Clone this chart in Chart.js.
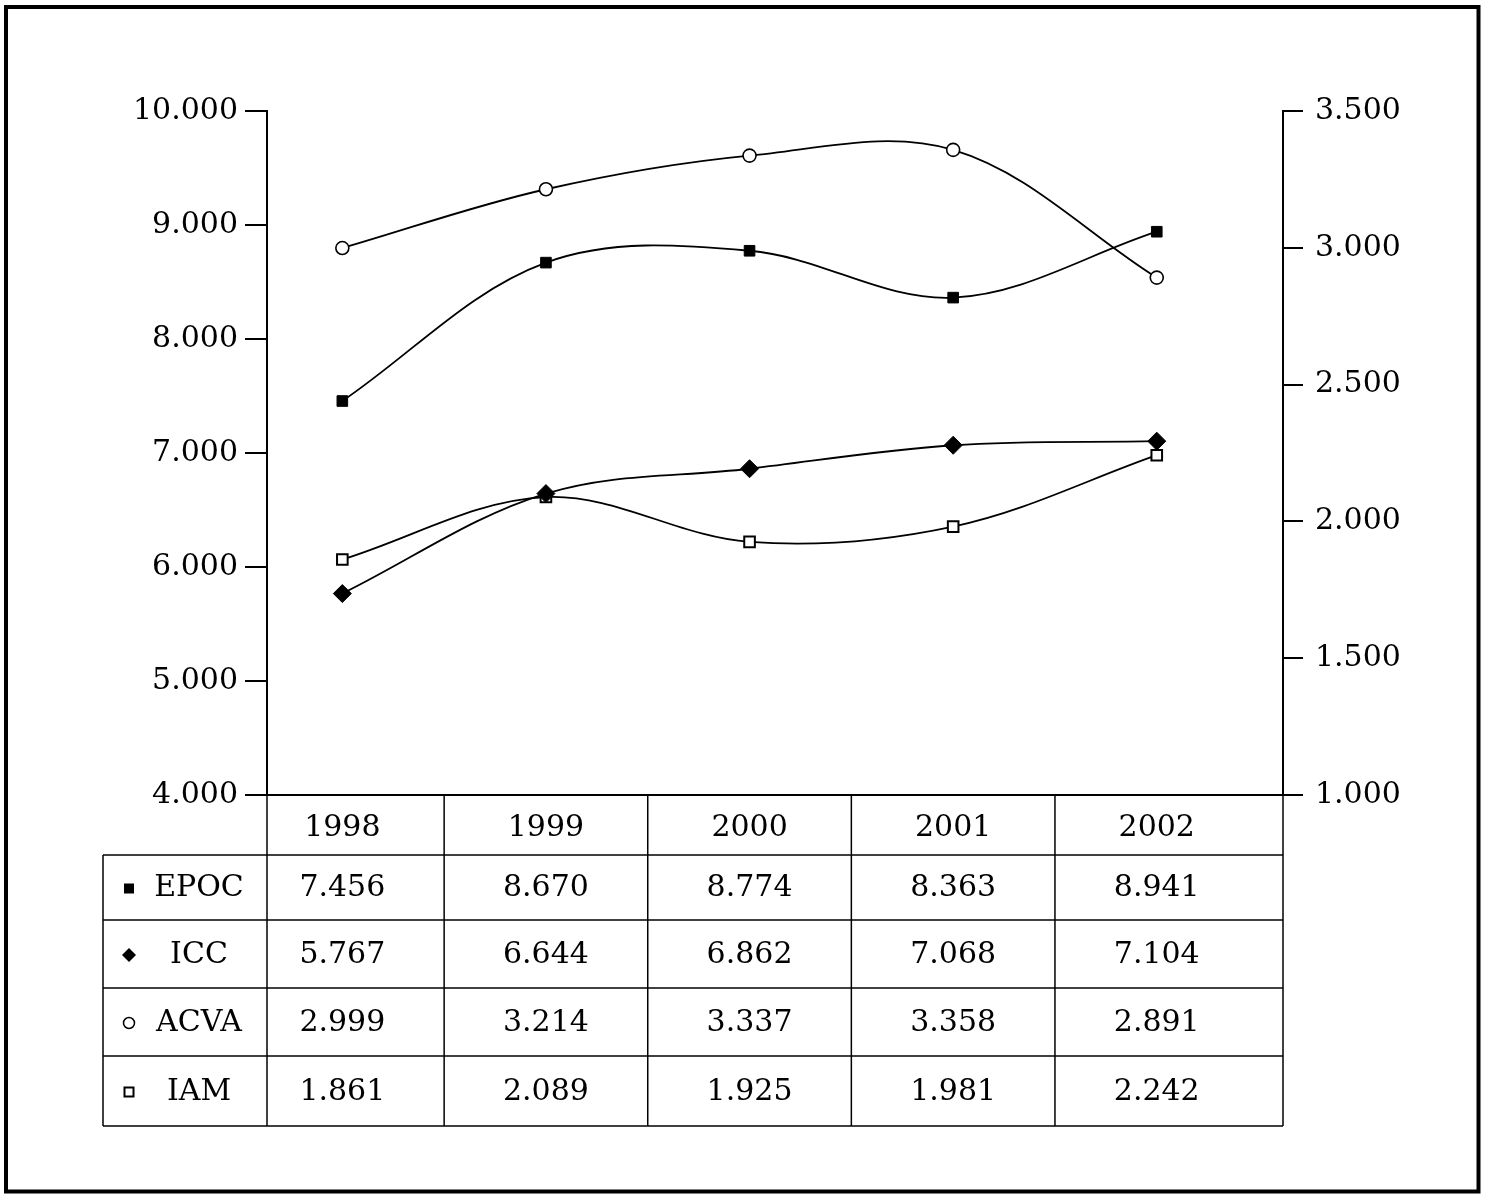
<!DOCTYPE html>
<html>
<head>
<meta charset="utf-8">
<script src="https://cdn.jsdelivr.net/npm/chart.js@4.4.1/dist/chart.umd.min.js"></script>
<style>
    html, body { margin: 0; padding: 0; background: #fff; }
    #wrap { position: relative; width: 1485px; height: 1198px; }
</style>
</head>
<body>
<div id="wrap"><canvas id="chart" width="1485" height="1198"></canvas></div>
<script>
// Data (values in units, shown with '.' as thousands separator)
const years = [1998, 1999, 2000, 2001, 2002];
const epoc = [7456, 8670, 8774, 8363, 8941];
const icc = [5767, 6644, 6862, 7068, 7104];
const acva = [2999, 3214, 3337, 3358, 2891];
const iam = [1861, 2089, 1925, 1981, 2242];
const seriesNames = ['EPOC', 'ICC', 'ACVA', 'IAM'];
const leftTicks = [4000, 5000, 6000, 7000, 8000, 9000, 10000];
const rightTicks = [1000, 1500, 2000, 2500, 3000, 3500];

const FONT = '"DejaVu Serif", "Liberation Serif", serif';

function fmt(v) {
    return String(v).replace(/\B(?=(\d{3})+(?!\d))/g, '.');
}

function toPoints(values) {
    return values.map((v, i) => ({ x: years[i], y: v }));
}

// small marker for the table legend column
function drawMarker(ctx, style, x, y) {
    ctx.save();
    ctx.fillStyle = '#000';
    ctx.strokeStyle = '#000';
    ctx.lineWidth = 1.5;
    if (style === 'fillSquare') {
        ctx.fillRect(x - 5, y - 5, 10, 10);
    } else if (style === 'diamond') {
        ctx.beginPath();
        ctx.moveTo(x, y - 7);
        ctx.lineTo(x + 7, y);
        ctx.lineTo(x, y + 7);
        ctx.lineTo(x - 7, y);
        ctx.closePath();
        ctx.fill();
    } else if (style === 'circle') {
        ctx.beginPath();
        ctx.arc(x, y, 5.5, 0, Math.PI * 2);
        ctx.stroke();
    } else {
        ctx.lineWidth = 2;
        ctx.strokeRect(x - 4.5, y - 4.5, 9, 9);
    }
    ctx.restore();
}

const tablePlugin = {
    id: 'tablePlugin',
    afterDraw(chart) {
        const ctx = chart.ctx;
        const ca = chart.chartArea;
        const xs = chart.scales.x;
        const colX = years.map(y => xs.getPixelForValue(y));
        const bounds = [ca.left];
        for (let i = 0; i < colX.length - 1; i++) {
            bounds.push((colX[i] + colX[i + 1]) / 2);
        }
        bounds.push(ca.right);
        const rows = [0, 60, 125, 193, 261, 331].map(d => ca.bottom + d);
        const labelLeft = 103;
        const allValues = [epoc, icc, acva, iam];
        const markers = ['fillSquare', 'diamond', 'circle', 'openSquare'];

        ctx.save();
        ctx.strokeStyle = '#000';

        // axis / header top line
        ctx.lineWidth = 2;
        ctx.beginPath();
        ctx.moveTo(ca.left, rows[0]);
        ctx.lineTo(ca.right, rows[0]);
        ctx.stroke();

        // horizontal rules
        ctx.lineWidth = 1.6;
        for (let r = 1; r < rows.length; r++) {
            ctx.beginPath();
            ctx.moveTo(labelLeft, rows[r]);
            ctx.lineTo(ca.right, rows[r]);
            ctx.stroke();
        }

        // vertical rules
        ctx.lineWidth = 1.5;
        bounds.forEach(bx => {
            ctx.beginPath();
            ctx.moveTo(bx, rows[0]);
            ctx.lineTo(bx, rows[rows.length - 1]);
            ctx.stroke();
        });
        ctx.beginPath();
        ctx.moveTo(labelLeft, rows[1]);
        ctx.lineTo(labelLeft, rows[rows.length - 1]);
        ctx.stroke();

        // texts
        ctx.fillStyle = '#000';
        ctx.font = '30px ' + FONT;
        ctx.textAlign = 'center';
        ctx.textBaseline = 'middle';
        years.forEach((y, i) => {
            ctx.fillText(String(y), colX[i], (rows[0] + rows[1]) / 2 + 3);
        });
        allValues.forEach((vals, r) => {
            const cy = (rows[r + 1] + rows[r + 2]) / 2 + 1;
            vals.forEach((v, i) => {
                ctx.fillText(fmt(v), colX[i], cy);
            });
            ctx.fillText(seriesNames[r], 199, cy);
            drawMarker(ctx, markers[r], 129, cy);
        });

        // outer frame
        ctx.lineWidth = 4;
        ctx.strokeRect(6, 7, 1472.5, 1184.5);
        ctx.restore();
    }
};

const axisFont = { family: FONT, size: 30 };

new Chart(document.getElementById('chart'), {
    type: 'line',
    data: {
        datasets: [{
            label: 'EPOC',
            data: toPoints(epoc),
            yAxisID: 'yL',
            borderColor: '#000',
            borderWidth: 1.8,
            pointStyle: 'rect',
            pointRadius: 7.5,
            pointBackgroundColor: '#000',
            pointBorderColor: '#000',
            pointBorderWidth: 1
        }, {
            label: 'ICC',
            data: toPoints(icc),
            yAxisID: 'yL',
            borderColor: '#000',
            borderWidth: 1.8,
            pointStyle: 'rectRot',
            pointRadius: 9,
            pointBackgroundColor: '#000',
            pointBorderColor: '#000',
            pointBorderWidth: 1
        }, {
            label: 'ACVA',
            data: toPoints(acva),
            yAxisID: 'yR',
            borderColor: '#000',
            borderWidth: 1.8,
            pointStyle: 'circle',
            pointRadius: 6.5,
            pointBackgroundColor: '#fff',
            pointBorderColor: '#000',
            pointBorderWidth: 1.6
        }, {
            label: 'IAM',
            data: toPoints(iam),
            yAxisID: 'yR',
            borderColor: '#000',
            borderWidth: 1.8,
            pointStyle: 'rect',
            pointRadius: 7.5,
            pointBackgroundColor: '#fff',
            pointBorderColor: '#000',
            pointBorderWidth: 2
        }]
    },
    options: {
        responsive: false,
        animation: false,
        events: [],
        layout: {
            padding: { left: 0, right: 0, top: 111, bottom: 403 }
        },
        elements: {
            line: { tension: 0.35 }
        },
        plugins: {
            legend: { display: false },
            tooltip: { enabled: false }
        },
        scales: {
            x: {
                type: 'linear',
                min: 1997.63,
                max: 2002.62,
                display: false
            },
            yL: {
                position: 'left',
                min: 4000,
                max: 10000,
                afterFit: s => { s.width = 267; },
                afterBuildTicks: s => { s.ticks = leftTicks.map(v => ({ value: v })); },
                ticks: {
                    callback: v => fmt(v),
                    color: '#000',
                    font: axisFont,
                    padding: 7
                },
                grid: {
                    drawOnChartArea: false,
                    drawTicks: true,
                    tickLength: 22,
                    color: '#000',
                    lineWidth: 2
                },
                border: { display: true, color: '#000', width: 2 }
            },
            yR: {
                position: 'right',
                min: 1000,
                max: 3500,
                afterFit: s => { s.width = 202; },
                afterBuildTicks: s => { s.ticks = rightTicks.map(v => ({ value: v })); },
                ticks: {
                    callback: v => fmt(v),
                    color: '#000',
                    font: axisFont,
                    padding: 12
                },
                grid: {
                    drawOnChartArea: false,
                    drawTicks: true,
                    tickLength: 20,
                    color: '#000',
                    lineWidth: 2
                },
                border: { display: true, color: '#000', width: 2 }
            }
        }
    },
    plugins: [tablePlugin]
});
</script>
</body>
</html>
